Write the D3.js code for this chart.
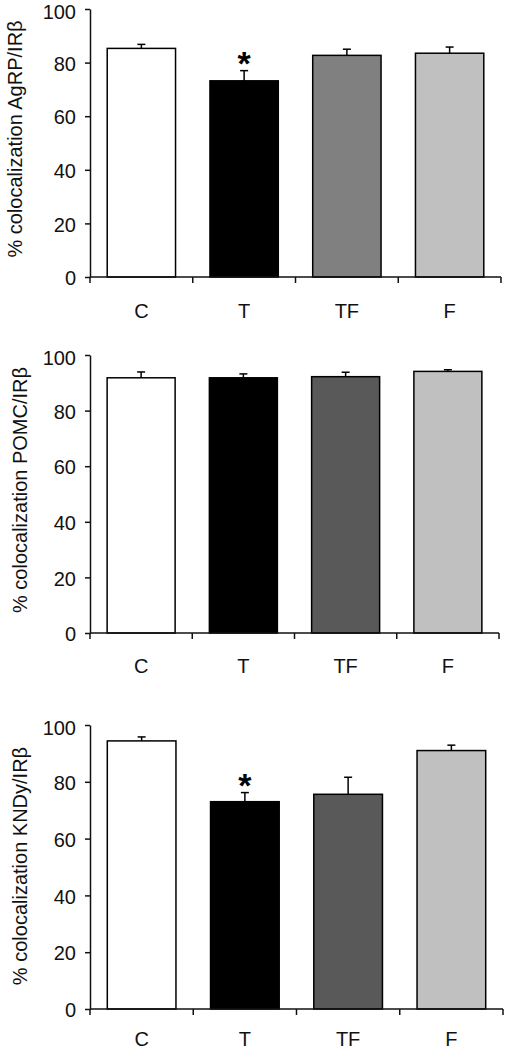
<!DOCTYPE html>
<html>
<head>
<meta charset="utf-8">
<script src="https://cdn.jsdelivr.net/npm/d3@7"></script>
<style>
  html, body { margin: 0; padding: 0; background: #fff; }
  svg { display: block; }
  text { font-family: "Liberation Sans", Arial, sans-serif; fill: #111; }
</style>
</head>
<body>
<svg id="chart" width="507" height="1050"></svg>
<script>
// ---- data ----
const categories = ["C", "T", "TF", "F"];
const yTicks = [0, 20, 40, 60, 80, 100];

const agrpValues = [85.3, 73.2, 82.7, 83.5];
const agrpErrors = [1.5, 3.8, 2.3, 2.3];
const agrpSig = [false, true, false, false];

const pomcValues = [91.8, 91.8, 92.2, 94.1];
const pomcErrors = [2.1, 1.4, 1.6, 0.6];
const pomcSig = [false, false, false, false];

const kndyValues = [94.4, 73.0, 75.6, 91.0];
const kndyErrors = [1.4, 3.2, 6.0, 1.9];
const kndySig = [false, true, false, false];

const yLabels = ["% colocalization AgRP/IRβ", "% colocalization POMC/IRβ", "% colocalization KNDy/IRβ"];

const fillsPanel1 = ["#ffffff", "#000000", "#808080", "#c0c0c0"];
const fillsPanel23 = ["#ffffff", "#000000", "#595959", "#c0c0c0"];

// ---- layout ----
const panels = [
  { values: agrpValues, errors: agrpErrors, sig: agrpSig, label: yLabels[0], fills: fillsPanel1,
    top: 9, bottom: 277, left: 90, right: 501, labelX: 22, labelY: 139, labelFs: 20, catDy: 41 },
  { values: pomcValues, errors: pomcErrors, sig: pomcSig, label: yLabels[1], fills: fillsPanel23,
    top: 355, bottom: 633, left: 90, right: 499, labelX: 27, labelY: 490, labelFs: 20, catDy: 40 },
  { values: kndyValues, errors: kndyErrors, sig: kndySig, label: yLabels[2], fills: fillsPanel23,
    top: 725, bottom: 1009, left: 90, right: 503, labelX: 27, labelY: 866, labelFs: 20, catDy: 37 }
];

const svg = d3.select("#chart");

panels.forEach(p => {
  const g = svg.append("g");
  const y = d3.scaleLinear().domain([0, 100]).range([p.bottom, p.top]);
  const x = d3.scaleBand().domain(categories).range([p.left, p.right])
    .paddingInner(0.335).paddingOuter(0.1675);
  const step = x.step();

  // bars
  g.selectAll("rect.bar").data(categories).enter().append("rect")
    .attr("class", "bar")
    .attr("x", d => x(d))
    .attr("width", x.bandwidth())
    .attr("y", (d, i) => y(p.values[i]))
    .attr("height", (d, i) => y(0) - y(p.values[i]))
    .attr("fill", (d, i) => p.fills[i])
    .attr("stroke", "#000")
    .attr("stroke-width", 1.5);

  // error bars (upward only)
  const cx = d => x(d) + x.bandwidth() / 2;
  g.selectAll("line.err").data(categories).enter().append("line")
    .attr("x1", cx).attr("x2", cx)
    .attr("y1", (d, i) => y(p.values[i]))
    .attr("y2", (d, i) => y(p.values[i] + p.errors[i]))
    .attr("stroke", "#000").attr("stroke-width", 1.5);
  g.selectAll("line.cap").data(categories).enter().append("line")
    .attr("x1", d => cx(d) - 4).attr("x2", d => cx(d) + 4)
    .attr("y1", (d, i) => y(p.values[i] + p.errors[i]))
    .attr("y2", (d, i) => y(p.values[i] + p.errors[i]))
    .attr("stroke", "#000").attr("stroke-width", 1.5);

  // significance asterisks
  g.selectAll("text.sig").data(categories.filter((d, i) => p.sig[i])).enter().append("text")
    .attr("x", cx)
    .attr("y", d => { const i = categories.indexOf(d); return y(p.values[i] + p.errors[i]) + 4; })
    .attr("text-anchor", "middle")
    .attr("font-size", 34)
    .attr("font-weight", "bold")
    .style("fill", "#000")
    .text("*");

  // y axis
  const yAxis = d3.axisLeft(y).tickValues(yTicks).tickSize(5).tickPadding(9).tickSizeOuter(0);
  const ya = g.append("g").attr("transform", `translate(${p.left},0)`).call(yAxis);
  ya.select(".domain").attr("stroke", "#111").attr("stroke-width", 1.5);
  ya.selectAll(".tick line").attr("stroke", "#111").attr("stroke-width", 1.5);
  ya.selectAll(".tick text").attr("font-size", 20).attr("font-family", null)
    .attr("dy", d => d === 100 ? "0.47em" : "0.38em");

  // x axis line with boundary ticks
  const xa = g.append("g");
  xa.append("line")
    .attr("x1", p.left).attr("x2", p.right)
    .attr("y1", y(0)).attr("y2", y(0))
    .attr("stroke", "#111").attr("stroke-width", 1.5);
  const bounds = categories.map(d => x(d) - step * 0.1675).concat([p.right]);
  xa.selectAll("line.xt").data(bounds).enter().append("line")
    .attr("x1", d => d).attr("x2", d => d)
    .attr("y1", y(0)).attr("y2", y(0) + 6)
    .attr("stroke", "#111").attr("stroke-width", 1.5);
  xa.selectAll("text.cat").data(categories).enter().append("text")
    .attr("x", cx)
    .attr("y", y(0) + p.catDy)
    .attr("text-anchor", "middle")
    .attr("font-size", 20)
    .text(d => d);

  // y label
  g.append("text")
    .attr("transform", `translate(${p.labelX},${p.labelY}) rotate(-90)`)
    .attr("text-anchor", "middle")
    .attr("font-size", p.labelFs)
    .text(p.label);
});
</script>
</body>
</html>
